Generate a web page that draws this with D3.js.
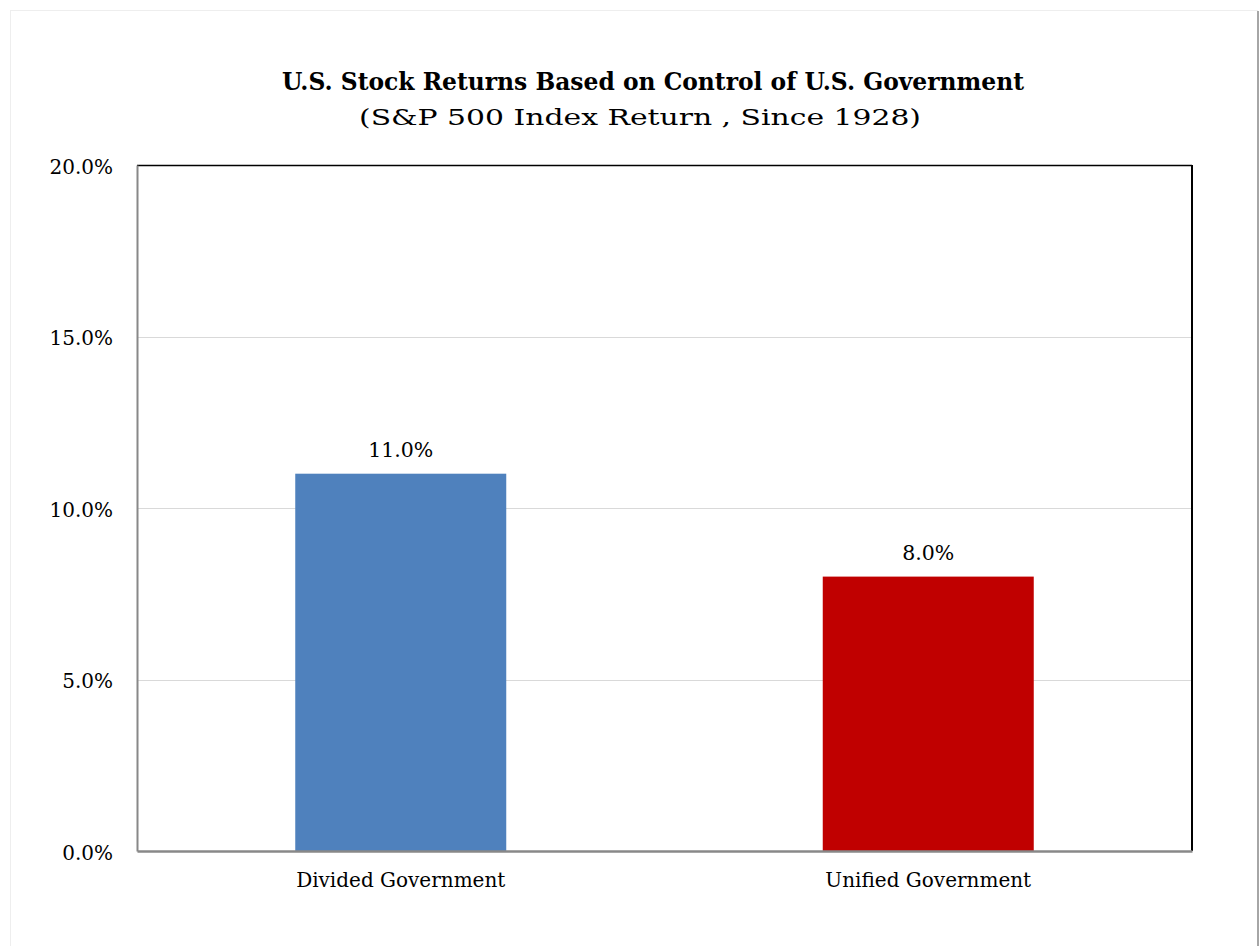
<!DOCTYPE html>
<html>
<head>
<meta charset="utf-8">
<script src="https://cdn.jsdelivr.net/npm/d3@7"></script>
<style>
  body { margin: 0; background: #fff; }
  text { font-family: "DejaVu Serif", "Liberation Serif", serif; fill: #000; }
</style>
</head>
<body>
<svg id="chart"></svg>
<script>
const WIDTH = 1260,
    HEIGHT = 946;

const categories = ['Divided Government', 'Unified Government'];
const returns = [11.0, 8.0];
const barColors = ['#4f81bd', '#c00000'];
const yTicks = [0, 5, 10, 15, 20];

const margin = { top: 165, right: 68, bottom: 95, left: 137 };
const plotW = WIDTH - margin.left - margin.right,
    plotH = HEIGHT - margin.top - margin.bottom;

const svg = d3.select('svg#chart')
    .attr('width', WIDTH)
    .attr('height', HEIGHT);

// outer chart frame
svg.append('rect')
    .attr('x', 10.5).attr('y', 10.5)
    .attr('width', 1247).attr('height', 940)
    .attr('fill', '#fff')
    .attr('stroke', '#eeeeee');
svg.append('line')
    .attr('x1', 1258).attr('x2', 1258)
    .attr('y1', 11).attr('y2', HEIGHT)
    .attr('stroke', '#a6a6a6').attr('stroke-width', 2);

// titles (glyphs squeezed / stretched a bit to the reference width)
svg.append('text')
    .attr('x', 653).attr('y', 90)
    .attr('text-anchor', 'middle')
    .attr('font-weight', 'bold')
    .attr('font-size', 23.5)
    .attr('textLength', 742)
    .attr('lengthAdjust', 'spacingAndGlyphs')
    .text('U.S. Stock Returns Based on Control of U.S. Government');

svg.append('text')
    .attr('x', 640).attr('y', 125)
    .attr('text-anchor', 'middle')
    .attr('font-size', 23)
    .attr('textLength', 562)
    .attr('lengthAdjust', 'spacingAndGlyphs')
    .text('(S&P 500 Index Return , Since 1928)');

const g = svg.append('g')
    .attr('transform', `translate(${margin.left},${margin.top})`);

const x = d3.scaleBand()
    .domain(categories)
    .range([0, plotW])
    .paddingInner(0.6)
    .paddingOuter(0.3);

const y = d3.scaleLinear()
    .domain([0, 20])
    .range([plotH, 0]);

// gridlines
g.append('g')
    .selectAll('line')
    .data(yTicks.filter(d => d > 0 && d < 20))
    .enter().append('line')
        .attr('x1', 0).attr('x2', plotW)
        .attr('y1', d => Math.round(y(d)) + 0.5)
        .attr('y2', d => Math.round(y(d)) + 0.5)
        .attr('stroke', '#d9d9d9');

// bars
g.append('g')
    .selectAll('rect')
    .data(returns)
    .enter().append('rect')
        .attr('x', (d, i) => x(categories[i]))
        .attr('y', d => y(d))
        .attr('width', x.bandwidth())
        .attr('height', d => plotH - y(d))
        .attr('fill', (d, i) => barColors[i]);

// value labels
g.append('g')
    .selectAll('text')
    .data(returns)
    .enter().append('text')
        .attr('x', (d, i) => x(categories[i]) + x.bandwidth() / 2)
        .attr('y', d => y(d) - 17)
        .attr('text-anchor', 'middle')
        .attr('font-size', 20.5)
        .text(d => d.toFixed(1) + '%');

// plot frame: top/right black, left/bottom grey
g.append('line')
    .attr('x1', 0).attr('x2', plotW)
    .attr('y1', 0.5).attr('y2', 0.5)
    .attr('stroke', '#000').attr('stroke-width', 1.5);
g.append('line')
    .attr('x1', plotW).attr('x2', plotW)
    .attr('y1', 0).attr('y2', plotH)
    .attr('stroke', '#000').attr('stroke-width', 2);

// y axis
const yAxis = g.append('g')
    .call(d3.axisLeft(y).tickValues(yTicks).tickSize(0).tickPadding(24)
        .tickFormat(d => d.toFixed(1) + '%'));
yAxis.select('.domain').attr('stroke', '#888').attr('stroke-width', 2);
yAxis.selectAll('text')
    .attr('font-size', 20)
    .attr('dy', '0.4em')
    .attr('font-family', '"DejaVu Serif", serif');

// x axis
const xAxis = g.append('g')
    .attr('transform', `translate(0,${plotH})`)
    .call(d3.axisBottom(x).tickSize(0).tickPadding(22));
xAxis.select('.domain').attr('stroke', '#888').attr('stroke-width', 2.5);
xAxis.selectAll('text')
    .attr('font-size', 20)
    .attr('font-family', '"DejaVu Serif", serif');
</script>
</body>
</html>
